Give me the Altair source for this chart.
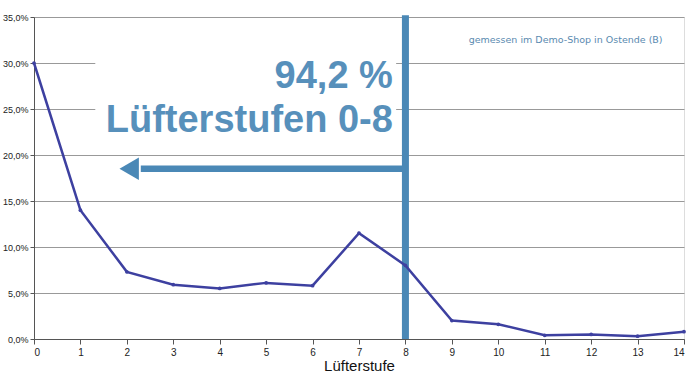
import altair as alt
import pandas as pd

stufen = list(range(15))
anteil = [30.0, 14.0, 7.3, 5.9, 5.5, 6.1, 5.8, 11.5, 8.0, 2.0, 1.6, 0.4, 0.5, 0.3, 0.8]

df = pd.DataFrame({"stufe": stufen, "anteil": anteil})

xs = alt.Scale(domain=[0, 14], nice=False, zero=False)
ys = alt.Scale(domain=[0, 35], nice=False)

BLUE = "#4a88b6"
LINE = "#3d40a0"

base = alt.Chart(df)

line = base.mark_line(color=LINE, strokeWidth=2.5, point=alt.OverlayMarkDef(color=LINE, size=14, filled=True)).encode(
    x=alt.X("stufe:Q", scale=xs,
            axis=alt.Axis(values=stufen, title="Lüfterstufe", grid=False, tickSize=5, tickOffset=0,
                          labelFontSize=10, labelFont="Liberation Sans", labelColor="#222",
                          titleFontSize=15, titleFont="Liberation Sans", titleFontWeight="normal",
                          titleColor="#111", titlePadding=1, domainColor="#555", tickColor="#555",
                          labelPadding=3)),
    y=alt.Y("anteil:Q", scale=ys,
            axis=alt.Axis(values=[0, 5, 10, 15, 20, 25, 30, 35], title=None,
                          labelExpr="replace(format(datum.value, '.1f'), '.', ',') + '%'",
                          labelFontSize=9, labelFont="Liberation Sans", labelColor="#222",
                          gridColor="#999", gridWidth=1, domainColor="#555", tickColor="#555",
                          tickSize=4, labelPadding=2)),
)

# white patch behind the big annotation
patch = alt.Chart(pd.DataFrame({"x": [1.32], "x2": [7.8], "y": [20.8], "y2": [33.0]})).mark_rect(color="white").encode(
    x=alt.X("x:Q", scale=xs), x2="x2:Q", y=alt.Y("y:Q", scale=ys), y2="y2:Q")

vline = alt.Chart(pd.DataFrame({"x": [8], "y": [0], "y2": [35.2]})).mark_rule(color=BLUE, strokeWidth=7).encode(
    x=alt.X("x:Q", scale=xs), y=alt.Y("y:Q", scale=ys), y2="y2:Q")

arrow = alt.Chart(pd.DataFrame({"x": [2.3], "x2": [8], "y": [18.5]})).mark_rule(color=BLUE, strokeWidth=6.5).encode(
    x=alt.X("x:Q", scale=xs), x2="x2:Q", y=alt.Y("y:Q", scale=ys))

head = alt.Chart(pd.DataFrame({"x": [2.05], "y": [18.5]})).mark_point(
    shape="triangle-left", size=500, filled=True, color=BLUE, opacity=1).encode(
    x=alt.X("x:Q", scale=xs), y=alt.Y("y:Q", scale=ys))

big = alt.Chart(pd.DataFrame({"x": [7.73, 7.73], "y": [27.3, 22.5], "t": ["94,2 %", "Lüfterstufen 0-8"]})).mark_text(
    align="right", baseline="alphabetic", fontSize=38, fontWeight="bold", font="Liberation Sans", color="#5790bb").encode(
    x=alt.X("x:Q", scale=xs), y=alt.Y("y:Q", scale=ys), text="t:N")

note = alt.Chart(pd.DataFrame({"x": [11.45], "y": [32.5], "t": ["gemessen im Demo-Shop in Ostende (B)"]})).mark_text(
    align="center", baseline="middle", fontSize=9.5, font="DejaVu Sans", color="#5a8ab0").encode(
    x=alt.X("x:Q", scale=xs), y=alt.Y("y:Q", scale=ys), text="t:N")

chart = alt.layer(patch, vline, arrow, head, big, note, line).properties(
    width=650, height=322,
    autosize=alt.AutoSizeParams(type="none"),
    padding={"left": 34, "top": 17, "right": 3, "bottom": 37},
).configure_view(stroke="#777", strokeWidth=1).configure(background="white")

chart.save("out.html", embed_options={"renderer": "svg", "actions": False})
